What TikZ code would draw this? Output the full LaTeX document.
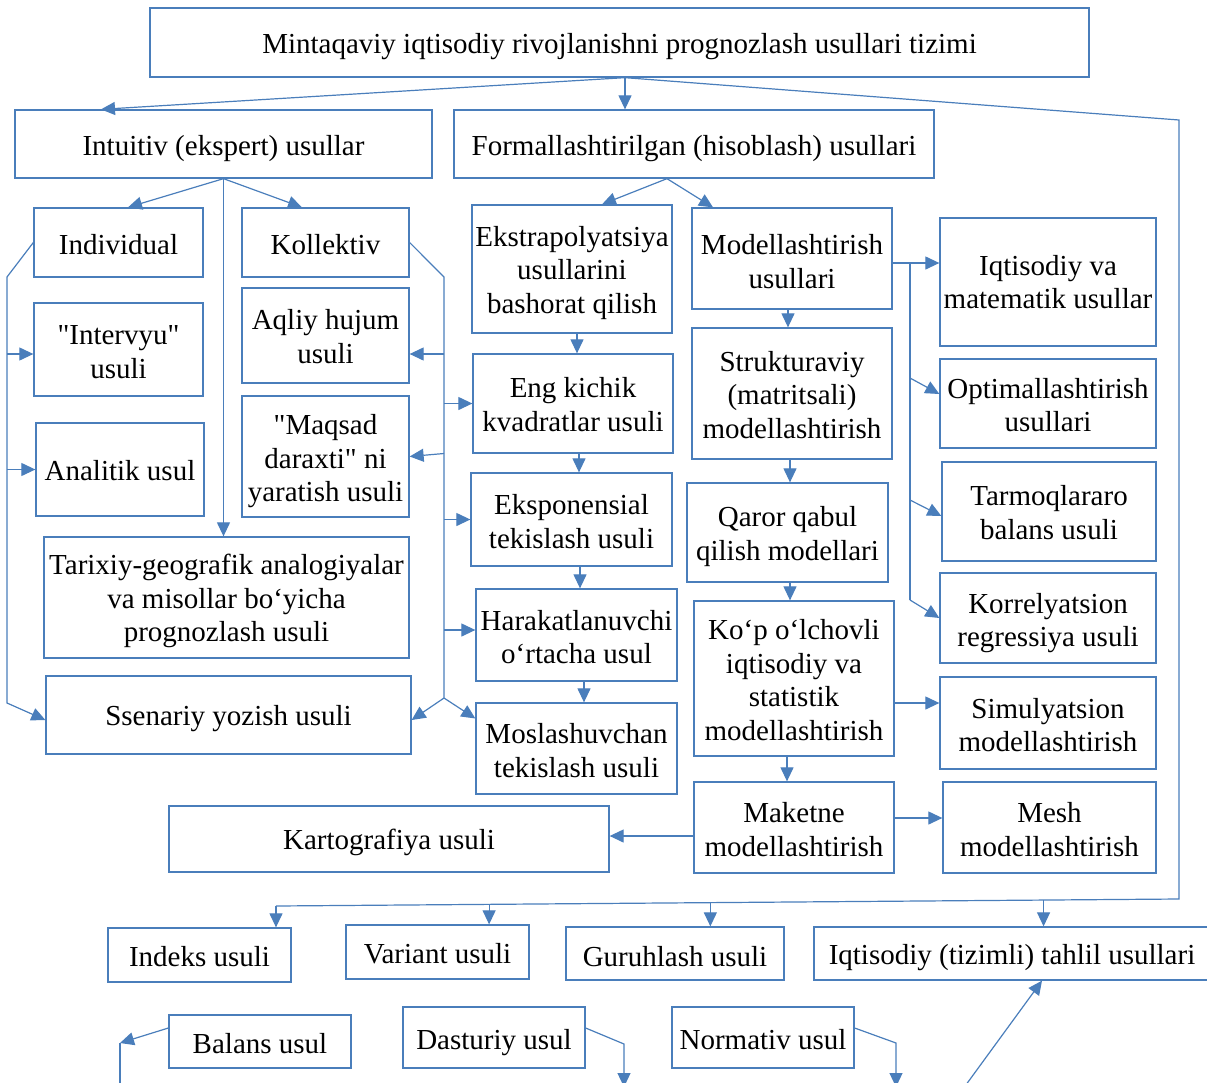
\documentclass[tikz,border=0pt]{standalone}
\usepackage{fontspec}
\setmainfont{Liberation Serif}[Ligatures=TeXOff]
\usetikzlibrary{arrows.meta,calc}
\definecolor{bl}{RGB}{74,126,187}
\newcommand{\mybox}[7][2.5]{\node[box,minimum width={#5-#3},minimum height={#6-#4}] (#2) at ({(#3+#5)/2},{(#4+#6)/2}) {};
\node[txt] (#2-t) at ([yshift=-#1pt]#2.center) {#7};}
\begin{document}
\begin{tikzpicture}[x=1pt,y=-1pt,
 box/.style={draw=bl,line width=1.3pt,inner sep=0pt},
 txt/.style={inner sep=0pt,align=center,font=\fontsize{29}{33.5}\selectfont},
 ln/.style={draw=bl,line width=1.2pt},
 arr/.style={ln,-{Triangle[length=14pt,width=13pt]}}]
\useasboundingbox (0,0) rectangle (1207,1082);
% boxes
\mybox[4]{top}{150}{8}{1089}{77}{Mintaqaviy iqtisodiy rivojlanishni prognozlash usullari tizimi}
\mybox[5]{int}{15}{110}{432}{178}{Intuitiv (ekspert) usullar}
\mybox[5]{form}{454}{110}{934}{178}{Formallashtirilgan (hisoblash) usullari}
\mybox{ind}{34}{208}{203}{277}{Individual}
\mybox{kol}{242}{208}{409}{277}{Kollektiv}
\mybox{intv}{34}{303}{203}{396}{"Intervyu"\\usuli}
\mybox[1]{aql}{242}{288}{409}{383}{Aqliy hujum\\usuli}
\mybox[1]{anal}{36}{423}{204}{516}{Analitik usul}
\mybox[5]{maq}{242}{396}{409}{517}{"Maqsad\\daraxti" ni\\yaratish usuli}
\mybox[3.5]{tar}{44}{537}{409}{658}{Tarixiy-geografik analogiyalar\\va misollar bo‘yicha\\prognozlash usuli}
\mybox[4]{ssen}{46}{676}{411}{754}{Ssenariy yozish usuli}
\mybox[4]{ekst}{472}{205}{672}{333}{Ekstrapolyatsiya\\usullarini\\bashorat qilish}
\mybox[1]{eng}{473}{354}{673}{453}{Eng kichik\\kvadratlar usuli}
\mybox[2]{eksp}{471}{473}{672}{566}{Eksponensial\\tekislash usuli}
\mybox[2]{har}{476}{589}{677}{681}{Harakatlanuvchi\\o‘rtacha usul}
\mybox[2]{mos}{476}{703}{677}{794}{Moslashuvchan\\tekislash usuli}
\mybox[3]{mod}{692}{208}{892}{309}{Modellashtirish\\usullari}
\mybox[1.5]{str}{692}{328}{892}{459}{Strukturaviy\\(matritsali)\\modellashtirish}
\mybox[4]{qar}{687}{483}{888}{582}{Qaror qabul\\qilish modellari}
\mybox[1.5]{kop}{694}{601}{894}{756}{Ko‘p o‘lchovli\\iqtisodiy va\\statistik\\modellashtirish}
\mybox[2]{mak}{694}{782}{894}{873}{Maketne\\modellashtirish}
\mybox[3]{kart}{169}{806}{609}{872}{Kartografiya usuli}
\mybox[0]{iqm}{940}{218}{1156}{346}{Iqtisodiy va\\matematik usullar}
\mybox[1.5]{opt}{940}{359}{1156}{448}{Optimallashtirish\\usullari}
\mybox[1]{tarm}{942}{462}{1156}{561}{Tarmoqlararo\\balans usuli}
\mybox[5]{kor}{940}{573}{1156}{663}{Korrelyatsion\\regressiya usuli}
\mybox[2]{sim}{940}{677}{1156}{769}{Simulyatsion\\modellashtirish}
\mybox[2]{mesh}{943}{782}{1156}{873}{Mesh\\modellashtirish}
\mybox[2]{idx}{108}{928}{291}{982}{Indeks usuli}
\mybox[2]{var}{346}{925}{529}{979}{Variant usuli}
\mybox[3]{gur}{566}{927}{784}{980}{Guruhlash usuli}
\mybox[4]{iqt}{814}{927}{1210}{980}{Iqtisodiy (tizimli) tahlil usullari}
\mybox[2]{bal}{169}{1015}{351}{1068}{Balans usul}
\mybox[5]{das}{403}{1007}{585}{1068}{Dasturiy usul}
\mybox[2]{norm}{672}{1007}{854}{1068}{Normativ usul}
% top connectors
\coordinate (tA) at ([xshift=5.5pt]top.south);
\draw[arr] (tA) -- ([xshift=-122.5pt]int.north);
\draw[arr] (tA) -- (tA |- form.north);
\coordinate (rb1) at (1179,120);
\coordinate (rb2) at (1179,899);
\coordinate (lb) at (276,906);
\draw[ln] (tA) -- (rb1) -- (rb2) -- (lb);
\draw[arr] (lb) -- (lb |- idx.north);
\coordinate (dv) at ($(lb)!0.236!(rb2)$);
\coordinate (dg) at ($(lb)!0.481!(rb2)$);
\coordinate (di) at ($(lb)!0.850!(rb2)$);
\draw[arr] (dv) -- (dv |- var.north);
\draw[arr] (dg) -- (dg |- gur.north);
\draw[arr] (di) -- (di |- iqt.north);
% intuitiv
\draw[arr] (int.south) -- ([xshift=9.5pt]ind.north);
\draw[arr] (int.south) -- ([xshift=-23.5pt]kol.north);
\draw[arr] (int.south) -- (int.south |- tar.north);
% left bus
\coordinate (lb1) at (7,277);
\coordinate (lb2) at (7,703);
\draw[arr] (ind.west) -- (lb1) -- (lb2) -- ([yshift=-5pt]ssen.west);
\draw[arr] ([yshift=-4.5pt]intv.west -| lb1) -- ([yshift=-4.5pt]intv.west);
\draw[arr] (anal.west -| lb1) -- (anal.west);
% right bus
\coordinate (kb1) at (444,277);
\coordinate (kb2) at (444,698);
\draw[ln] (kol.east) -- (kb1) -- (kb2);
\draw[arr] (kb2) -- ([yshift=-5pt]ssen.east);
\draw[arr] (kb2) -- ([yshift=30pt]mos.west);
\draw[arr] ([yshift=-18.5pt]aql.east -| kb1) -- ([yshift=-18.5pt]aql.east);
\draw[arr] ([yshift=3pt]maq.east -| kb1) -- (maq.east);
\draw[arr] (eng.west -| kb1) -- (eng.west);
\draw[arr] (eksp.west -| kb1) -- (eksp.west);
\draw[arr] ([yshift=5pt]har.west -| kb1) -- ([yshift=5pt]har.west);
% formallashtirilgan
\coordinate (fA) at ([xshift=-27pt]form.south);
\draw[arr] (fA) -- ([xshift=30pt]ekst.north);
\draw[arr] (fA) -- ([xshift=-79pt]mod.north);
% vertical chains
\draw[arr] ([xshift=5pt]ekst.south) -- ([xshift=5pt]ekst.south |- eng.north);
\draw[arr] ([xshift=6pt]eng.south) -- ([xshift=6pt]eng.south |- eksp.north);
\draw[arr] ([xshift=8.5pt]eksp.south) -- ([xshift=8.5pt]eksp.south |- har.north);
\draw[arr] ([xshift=7.5pt]har.south) -- ([xshift=7.5pt]har.south |- mos.north);
\draw[arr] ([xshift=-4pt]mod.south) -- ([xshift=-4pt]mod.south |- str.north);
\draw[arr] ([xshift=-2pt]str.south) -- ([xshift=-2pt]str.south |- qar.north);
\draw[arr] ([xshift=2.5pt]qar.south) -- ([xshift=2.5pt]qar.south |- kop.north);
\draw[arr] ([xshift=-7pt]kop.south) -- ([xshift=-7pt]kop.south |- mak.north);
% modellashtirish bus
\coordinate (mR) at ([yshift=-4.5pt]mod.east);
\draw[arr] (mR) -- (mR -| iqm.west);
\coordinate (mb1) at (910,263);
\coordinate (mb2) at (910,600);
\coordinate (mo) at (910,378);
\coordinate (mt) at (910,500);
\draw[ln] (mb1) -- (mb2);
\draw[arr] (mo) -- ([yshift=9.5pt]opt.west);
\draw[arr] (mt) -- ([yshift=-4.5pt]tarm.west);
\draw[arr] (mb2) -- (kor.west);
% lower right
\draw[arr] ([yshift=-24.5pt]kop.east) -- ([yshift=-24.5pt]kop.east -| sim.west);
\draw[arr] ([yshift=9.5pt]mak.east) -- ([yshift=9.5pt]mak.east -| mesh.west);
\draw[arr] ([yshift=-8.5pt]mak.west) -- ([yshift=-8.5pt]mak.west -| kart.east);
% bottom
\coordinate (bb) at (120,1043);
\coordinate (bbe) at (120,1095);
\draw[arr] ([yshift=13.5pt]bal.west) -- (bb);
\draw[ln] (bb) -- (bbe);
\coordinate (db) at (624,1044);
\coordinate (dbe) at (624,1087);
\draw[arr] ([yshift=9.5pt]das.east) -- (db) -- (dbe);
\coordinate (nb) at (896,1043);
\coordinate (nbe) at (896,1087);
\draw[arr] ([yshift=9.5pt]norm.east) -- (nb) -- (nbe);
\coordinate (ds) at (960,1093);
\draw[arr] (ds) -- ([xshift=30pt]iqt.south);
\end{tikzpicture}
\end{document}
